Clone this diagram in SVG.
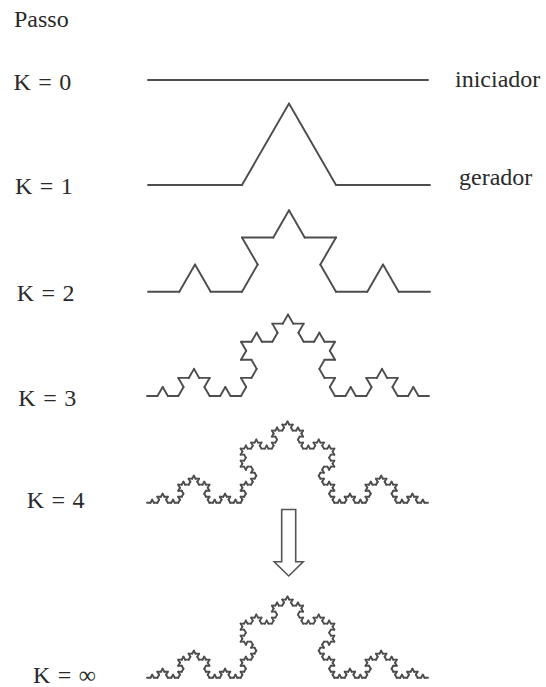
<svg xmlns="http://www.w3.org/2000/svg" xmlns:xlink="http://www.w3.org/1999/xlink" width="546" height="687" viewBox="0 0 546 687">
<style>
text{font-family:"Liberation Serif","Times New Roman",serif;font-size:24px;fill:#2a2a2a;word-spacing:1.5px}
.seg{fill:none;stroke:#4d4d4d;stroke-width:1.9;stroke-linecap:round;stroke-linejoin:round;vector-effect:non-scaling-stroke}
.line{fill:none;stroke:#4d4d4d;stroke-width:1.9;stroke-linecap:round}
.arrow{fill:#fff;stroke:#555;stroke-width:1.6;stroke-linejoin:miter}
</style>
<defs>
<path id="k0" class="seg" d="M0 0H1"/>
<g id="k1">
<use xlink:href="#k0" href="#k0" transform="scale(0.3333333)"/>
<use xlink:href="#k0" href="#k0" transform="translate(0.3333333,0) rotate(-60) scale(0.3333333)"/>
<use xlink:href="#k0" href="#k0" transform="translate(0.5,-0.2886751) rotate(60) scale(0.3333333)"/>
<use xlink:href="#k0" href="#k0" transform="translate(0.6666667,0) scale(0.3333333)"/>
</g>
<g id="k2">
<use xlink:href="#k1" href="#k1" transform="scale(0.3333333)"/>
<use xlink:href="#k1" href="#k1" transform="translate(0.3333333,0) rotate(-60) scale(0.3333333)"/>
<use xlink:href="#k1" href="#k1" transform="translate(0.5,-0.2886751) rotate(60) scale(0.3333333)"/>
<use xlink:href="#k1" href="#k1" transform="translate(0.6666667,0) scale(0.3333333)"/>
</g>
<g id="k3">
<use xlink:href="#k2" href="#k2" transform="scale(0.3333333)"/>
<use xlink:href="#k2" href="#k2" transform="translate(0.3333333,0) rotate(-60) scale(0.3333333)"/>
<use xlink:href="#k2" href="#k2" transform="translate(0.5,-0.2886751) rotate(60) scale(0.3333333)"/>
<use xlink:href="#k2" href="#k2" transform="translate(0.6666667,0) scale(0.3333333)"/>
</g>
<g id="k4">
<use xlink:href="#k3" href="#k3" transform="scale(0.3333333)"/>
<use xlink:href="#k3" href="#k3" transform="translate(0.3333333,0) rotate(-60) scale(0.3333333)"/>
<use xlink:href="#k3" href="#k3" transform="translate(0.5,-0.2886751) rotate(60) scale(0.3333333)"/>
<use xlink:href="#k3" href="#k3" transform="translate(0.6666667,0) scale(0.3333333)"/>
</g>
</defs>
<rect width="546" height="687" fill="#fff"/>
<g id="labels">
<text x="14" y="27.3">Passo</text>
<text x="13.5" y="90">K = 0</text>
<text x="455" y="86.7">iniciador</text>
<text x="15" y="194">K = 1</text>
<text x="459" y="185">gerador</text>
<text x="16.7" y="300.7">K = 2</text>
<text x="18.3" y="405.7">K = 3</text>
<text x="26.7" y="508.3">K = 4</text>
<text x="33" y="683">K = ∞</text>
</g>
<g id="step0"><path class="line" d="M148 80H428"/></g>
<g id="step1"><use xlink:href="#k1" href="#k1" transform="translate(148,185) scale(282)"/></g>
<g id="step2"><use xlink:href="#k2" href="#k2" transform="translate(148,291.7) scale(282)"/></g>
<g id="step3"><use xlink:href="#k3" href="#k3" transform="translate(147,396) scale(282)"/></g>
<g id="step4"><use xlink:href="#k4" href="#k4" transform="translate(147,502.7) scale(281)"/></g>
<g id="stepInf"><use xlink:href="#k4" href="#k4" transform="translate(147,677.7) scale(281)"/></g>
<g id="arrow"><path class="arrow" d="M281.7 509.5H295.7V561.7H303.2L288.7 576L274.2 561.7H281.7Z"/></g>
</svg>
